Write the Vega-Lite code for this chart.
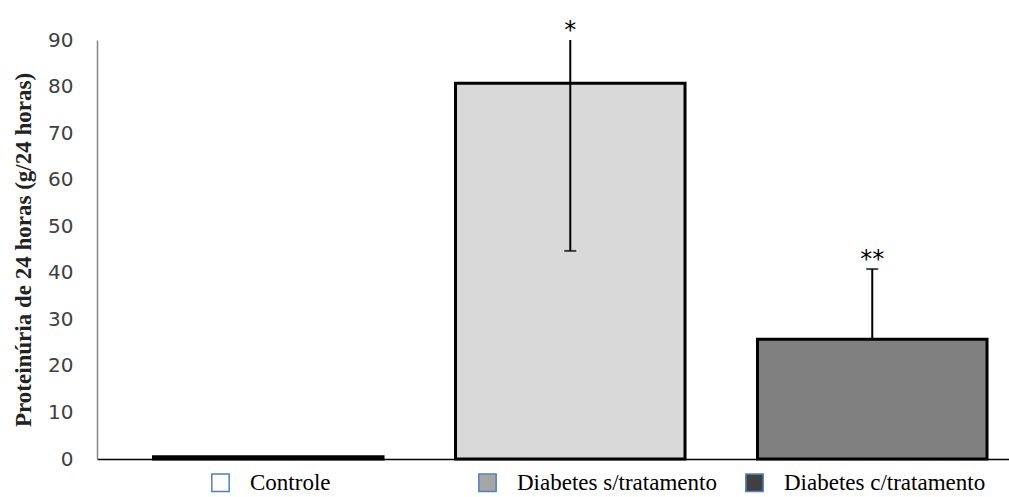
{
  "$schema": "https://vega.github.io/schema/vega-lite/v6.json",
  "width": 912,
  "height": 419,
  "autosize": {"type": "none"},
  "padding": {"left": 97, "top": 40, "right": 0, "bottom": 38},
  "background": "white",
  "config": {"view": {"stroke": null}},
  "data": {"values": [
    {"grupo": "Controle", "media": 0.5, "lo": null, "hi": null, "cap": null, "sig": ""},
    {"grupo": "Diabetes s/tratamento", "media": 80.7, "lo": 44.7, "hi": 90, "cap": 44.7, "sig": "*"},
    {"grupo": "Diabetes c/tratamento", "media": 25.7, "lo": 25.7, "hi": 40.8, "cap": 40.8, "sig": "**"}
  ]},
  "encoding": {
    "x": {
      "field": "grupo", "type": "nominal", "sort": null,
      "scale": {"paddingInner": 0.24, "paddingOuter": 0.13, "align": 0.72},
      "axis": {"labels": false, "ticks": false, "title": null, "domainColor": "black", "domainWidth": 1.5}
    }
  },
  "layer": [
    {
      "mark": {"type": "bar", "stroke": "black", "strokeWidth": 3},
      "encoding": {
        "y": {
          "field": "media", "type": "quantitative",
          "scale": {"domain": [0, 90], "nice": false},
          "axis": {
            "values": [0, 10, 20, 30, 40, 50, 60, 70, 80, 90],
            "grid": false, "ticks": false,
            "domainColor": "#868686", "domainWidth": 1.5,
            "labelFont": "DejaVu Sans", "labelFontSize": 20, "labelColor": "#404040",
            "labelPadding": 24,
            "title": "Proteinúria de 24 horas (g/24 horas)",
            "titleFont": "Liberation Serif", "titleFontSize": 23, "titleFontWeight": "bold",
            "titleColor": "#222222", "titlePadding": 12
          }
        },
        "fill": {
          "field": "grupo", "type": "nominal",
          "scale": {"domain": ["Controle", "Diabetes s/tratamento", "Diabetes c/tratamento"], "range": ["#ffffff", "#d9d9d9", "#808080"]},
          "legend": null
        }
      }
    },
    {
      "mark": {"type": "rule", "strokeWidth": 2, "color": "black"},
      "encoding": {
        "y": {"field": "lo", "type": "quantitative"},
        "y2": {"field": "hi"}
      }
    },
    {
      "mark": {"type": "tick", "thickness": 2, "size": 12, "color": "black"},
      "encoding": {"y": {"field": "cap", "type": "quantitative"}}
    },
    {
      "mark": {"type": "text", "baseline": "alphabetic", "dy": -2, "fontSize": 24, "font": "DejaVu Sans", "color": "black"},
      "encoding": {
        "y": {"field": "hi", "type": "quantitative"},
        "text": {"field": "sig"}
      }
    },
    {
      "mark": {"type": "point", "opacity": 0, "filled": true, "shape": "square"},
      "encoding": {
        "fill": {
          "field": "grupo", "type": "nominal",
          "scale": {"domain": ["Controle", "Diabetes s/tratamento", "Diabetes c/tratamento"], "range": ["#ffffff", "#a6a6a6", "#404040"]},
          "legend": {
            "orient": "none", "legendX": 112, "legendY": 431,
            "direction": "horizontal", "title": null,
            "symbolType": "square", "symbolSize": 300, "symbolOpacity": 1,
            "symbolStrokeColor": "#4f81bd", "symbolStrokeWidth": 1.5,
            "labelFont": "Liberation Serif", "labelFontSize": 23, "labelColor": "black",
            "labelOffset": 18, "columnPadding": 23, "gridAlign": "all", "labelLimit": 400
          }
        }
      }
    }
  ],
  "resolve": {"scale": {"fill": "independent"}}
}
